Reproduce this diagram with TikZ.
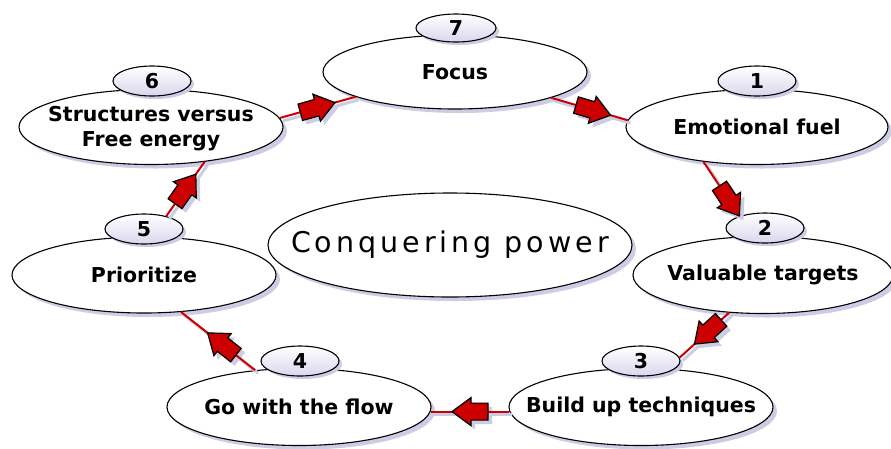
\documentclass[tikz,border=0pt]{standalone}
\usepackage{fontspec}
\setmainfont{DejaVu Sans}
\newfontfamily\bigfnt[LetterSpace=14]{DejaVu Sans}
\usetikzlibrary{shapes.geometric,shadows}
\definecolor{shcol}{RGB}{204,204,228}
\definecolor{conred}{RGB}{204,0,0}
\definecolor{bubbot}{RGB}{218,214,238}
\newcommand{\zw}[1]{\makebox[0pt][c]{#1}}
\begin{document}
\begin{tikzpicture}[x=1pt,y=-1pt,
  mainell/.style={ellipse, draw=black, line width=1.1pt, fill=white, inner sep=0pt,
    drop shadow={shadow xshift=4pt, shadow yshift=-4pt, fill=shcol, opacity=1},
    font=\fontsize{20.5}{25}\selectfont\bfseries,
    minimum width=264pt, minimum height=76pt},
  bub/.style={ellipse, draw=black, line width=1.1pt, top color=white, bottom color=bubbot,
    inner sep=0pt, minimum width=78pt, minimum height=30pt,
    drop shadow={shadow xshift=3pt, shadow yshift=-3pt, fill=shcol, opacity=1},
    font=\fontsize{20.5}{25}\selectfont\bfseries},
  conn/.style={draw=conred, line width=2pt,
    preaction={draw=shcol, line width=3pt, transform canvas={shift={(3pt,-3pt)}}}},
  blkarrow/.pic={
    \filldraw[draw=black, fill=conred, line width=1.2pt, line join=miter]
      (-18,-8.5) -- (-1,-8.5) -- (-1,-14) -- (18,0) -- (-1,14) -- (-1,8.5) -- (-18,8.5) -- cycle;},
  blkshadow/.pic={
    \fill[shcol]
      (-18,-8.5) -- (-1,-8.5) -- (-1,-14) -- (18,0) -- (-1,14) -- (-1,8.5) -- (-18,8.5) -- cycle;},
  arr/.style={pos=#1, sloped, allow upside down},
  sh/.style={shift={(4pt,-4pt)}}
]
\useasboundingbox (0,0) rectangle (891,448);
\fill[white] (0,0) rectangle (891,448);

\node[mainell, minimum height=74pt] (focus) at (455,72) {\zw{Focus}};
\node[bub, minimum width=80pt, minimum height=28pt] (b7) at (456,28) {7};
\node[mainell, minimum width=262pt, minimum height=75pt] (emo) at (757,127) {\zw{Emotional fuel}};
\node[bub] (b1) at (757,81) {1};
\node[mainell, minimum width=260pt, minimum height=77pt] (val) at (763,275) {\zw{Valuable targets}};
\node[bub] (b2) at (765,228) {2};
\node[mainell, minimum height=77pt] (build) at (641,407) {\zw{Build up techniques}};
\node[bub] (b3) at (641,361) {3};
\node[mainell, minimum height=77pt] (go) at (299,407) {\zw{Go with the flow}};
\node[bub] (b4) at (300,361) {4};
\node[mainell] (prio) at (144,275) {\zw{Prioritize}};
\node[bub] (b5) at (144,229) {5};
\node[mainell, minimum height=75pt] (struct) at (151,127)
  {\zw{\raisebox{-7.5pt}[0pt][0pt]{\begin{tabular}{@{}c@{}}Structures versus\\[0pt]Free energy\end{tabular}}}};
\node[bub] (b6) at (152,81) {6};
\node[mainell, minimum width=364pt, minimum height=104pt,
  font=\bigfnt\fontsize{28.5}{32}\selectfont] (conq) at (450,245) {\zw{Conquering power}};

% arrow shadows
\path ([sh]focus.-15) -- pic[arr=.55]{blkshadow} ([sh]emo.177);
\path ([sh]emo.-147) -- pic[arr=.72]{blkshadow} ([sh]b2.155);
\path ([sh]val.228) -- pic[arr=.43]{blkshadow} ([sh]b3.5);
\path ([sh]build.182) -- pic[arr=.5]{blkshadow} ([sh]go.-2);
\path ([sh]go.140) -- pic[arr=.45]{blkshadow} ([sh]prio.-45);
\path ([sh]b5.30) -- pic[arr=.5]{blkshadow} ([sh]struct.-33);
\path ([sh]struct.4) -- pic[arr=.5]{blkshadow} ([sh]focus.194);

% connectors
\draw[conn] (focus.-15) -- (emo.177);
\draw[conn] (emo.-147) -- (b2.155);
\draw[conn] (val.228) -- (b3.5);
\draw[conn] (build.182) -- (go.-2);
\draw[conn] (go.140) -- (prio.-45);
\draw[conn] (b5.30) -- (struct.-33);
\draw[conn] (struct.4) -- (focus.194);

% arrow heads
\path (focus.-15) -- pic[arr=.55]{blkarrow} (emo.177);
\path (emo.-147) -- pic[arr=.72]{blkarrow} (b2.155);
\path (val.228) -- pic[arr=.43]{blkarrow} (b3.5);
\path (build.182) -- pic[arr=.5]{blkarrow} (go.-2);
\path (go.140) -- pic[arr=.45]{blkarrow} (prio.-45);
\path (b5.30) -- pic[arr=.5]{blkarrow} (struct.-33);
\path (struct.4) -- pic[arr=.5]{blkarrow} (focus.194);
\end{tikzpicture}
\end{document}
